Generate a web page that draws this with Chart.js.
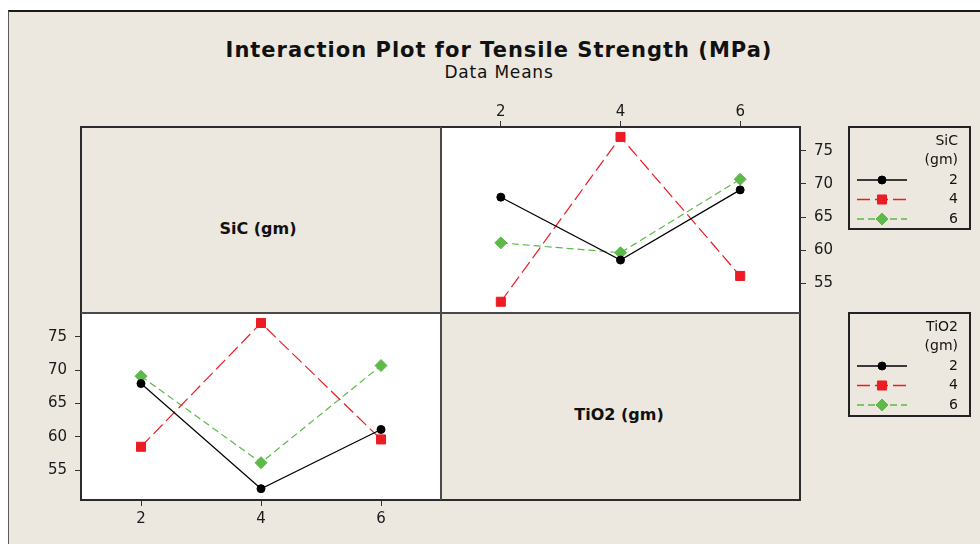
<!DOCTYPE html>
<html>
<head>
<meta charset="utf-8">
<title>Interaction Plot for Tensile Strength (MPa)</title>
<script src="https://cdn.jsdelivr.net/npm/chart.js@4.4.1/dist/chart.umd.min.js"></script>
<style>
  html, body { margin:0; padding:0; width:980px; height:544px; overflow:hidden; background:#fff; }
  body { position:relative; font-family:"DejaVu Sans", Verdana, sans-serif; color:#111; }
  .abs { position:absolute; box-sizing:border-box; }
  #sheet { left:8px; top:10px; width:972px; height:534px; background:#ECE8DF; border-top:2px solid #1a1a1a; border-left:1px solid #5a5a5a; }
  #frame { left:80px; top:126px; width:721px; height:375px; border:2px solid #2b2b2b; }
  .cell { background:#fff; }
  #cellTR { left:441px; top:127px; width:359px; height:186px; }
  #cellBL { left:81px; top:313px; width:360px; height:187px; }
  #vdiv { left:440px; top:127px; width:2px; height:373px; background:#4a4a4a; }
  #hdiv { left:81px; top:312px; width:719px; height:2px; background:#4a4a4a; }
  #title { left:0; top:40px; width:998px; text-align:center; font-weight:bold; font-size:21px; line-height:21px; letter-spacing:1px; white-space:nowrap; }
  #subtitle { left:0; top:64px; width:998px; text-align:center; font-size:17px; line-height:17px; letter-spacing:0.8px; white-space:nowrap; }
  .factor { width:200px; font-weight:bold; font-size:16px; line-height:16px; text-align:center; white-space:nowrap; }
  #facSiC { left:158px; top:221px; }
  #facTiO2 { left:519px; top:407px; }
  canvas { position:absolute; left:0; top:0; }
</style>
</head>
<body>
<div class="abs" id="sheet"></div>
<div class="abs cell" id="cellTR"></div>
<div class="abs cell" id="cellBL"></div>
<div class="abs" id="frame"></div>
<div class="abs" id="vdiv"></div>
<div class="abs" id="hdiv"></div>
<div class="abs" id="title">Interaction Plot for Tensile Strength (MPa)</div>
<div class="abs" id="subtitle">Data Means</div>
<div class="abs factor" id="facSiC">SiC (gm)</div>
<div class="abs factor" id="facTiO2">TiO2 (gm)</div>
<canvas id="sicPanel" width="980" height="544"></canvas>
<canvas id="tio2Panel" width="980" height="544"></canvas>
<script>
// Factor levels (gm) and axis ticks
const levels = [2, 4, 6];
const xTicks = [2, 4, 6];
const yTicks = [55, 60, 65, 70, 75];
const xMin = 1, xMax = 7;
const yMin = 50.5, yMax = 78.6;

// Mean tensile strength (MPa) at TiO2 = 2, 4, 6 gm, one array per SiC level
const sic2 = [68.0, 58.5, 69.1];
const sic4 = [52.2, 77.1, 56.1];
const sic6 = [61.1, 59.6, 70.7];
const sicRows = [sic2, sic4, sic6];

const W = 980, H = 544;
const styles = [
  { color: '#000000', dash: [],      point: 'circle',  radius: 4 },
  { color: '#EC1C24', dash: [13, 5], point: 'rect',    radius: 6.4 },
  { color: '#5CB94A', dash: [7, 4],  point: 'rectRot', radius: 6 }
];

function series(label, pts, st) {
  return {
    label: label, data: pts,
    borderColor: st.color, backgroundColor: st.color,
    borderWidth: 1.2, borderDash: st.dash, tension: 0, fill: false,
    pointStyle: st.point, pointRadius: st.radius, pointBorderWidth: 1,
    pointBackgroundColor: st.color, pointBorderColor: st.color
  };
}

// Top-right panel: x = TiO2 level, one line per SiC level
const sicSets = sicRows.map((row, i) =>
  series(String(levels[i]), levels.map((t, j) => ({ x: t, y: row[j] })), styles[i]));
// Bottom-left panel: x = SiC level, one line per TiO2 level
const tio2Sets = levels.map((t, j) =>
  series(String(t), levels.map((s, i) => ({ x: s, y: sicRows[i][j] })), styles[j]));

// Boxed key drawn to the right of the matrix, built from the chart's datasets
const panelLegend = {
  id: 'panelLegend',
  afterDraw(chart, args, o) {
    const ctx = chart.ctx;
    ctx.save();
    ctx.strokeStyle = '#222'; ctx.lineWidth = 2; ctx.setLineDash([]);
    ctx.strokeRect(o.left, o.top, o.width, o.height);
    ctx.fillStyle = '#111';
    ctx.font = '14px "DejaVu Sans"';
    ctx.textAlign = 'right'; ctx.textBaseline = 'middle';
    const tx = o.left + o.width - 12;
    o.heading.forEach((t, i) => ctx.fillText(t, tx, o.top + 14 + i * 19.5));
    chart.data.datasets.forEach((ds, i) => {
      const y = o.top + 53 + i * 19.5;
      const x0 = o.left + 8;
      ctx.strokeStyle = ds.borderColor; ctx.lineWidth = 1.3;
      ctx.setLineDash(ds.borderDash || []);
      ctx.beginPath(); ctx.moveTo(x0, y); ctx.lineTo(x0 + 50, y); ctx.stroke();
      ctx.setLineDash([]);
      ctx.fillStyle = ds.backgroundColor; ctx.lineWidth = 1;
      Chart.helpers.drawPoint(ctx, { pointStyle: ds.pointStyle, radius: ds.pointRadius, borderWidth: 1 }, x0 + 25, y);
      ctx.fillStyle = '#111';
      ctx.fillText(ds.label, tx, y);
    });
    ctx.restore();
  }
};

function makePanel(id, datasets, area, xPos, yPos, legendOpts) {
  const AXW = 50, AXH = 32;
  const padding = xPos === 'top'
    ? { left: area.left, right: W - area.right - AXW, top: area.top - AXH, bottom: H - area.bottom }
    : { left: area.left - AXW, right: W - area.right, top: area.top, bottom: H - area.bottom - AXH };
  const tickFont = { family: '"DejaVu Sans"', size: 15 };
  const grid = { drawOnChartArea: false, drawTicks: true, tickLength: 6, color: '#333', lineWidth: 1 };
  return new Chart(document.getElementById(id), {
    type: 'line',
    data: { datasets: datasets },
    options: {
      responsive: false, animation: false, devicePixelRatio: 1,
      layout: { padding: padding },
      plugins: { legend: { display: false }, tooltip: { enabled: false }, title: { display: false },
                 panelLegend: legendOpts },
      scales: {
        x: { type: 'linear', position: xPos, min: xMin, max: xMax,
             afterBuildTicks: s => { s.ticks = xTicks.map(v => ({ value: v })); },
             afterFit: s => { s.height = AXH; },
             grid: grid, border: { display: false },
             ticks: { font: tickFont, color: '#1a1a1a', padding: xPos === 'top' ? 0 : 4, maxRotation: 0, autoSkip: false } },
        y: { type: 'linear', position: yPos, min: yMin, max: yMax,
             afterBuildTicks: s => { s.ticks = yTicks.map(v => ({ value: v })); },
             afterFit: s => { s.width = AXW; },
             grid: grid, border: { display: false },
             ticks: { font: tickFont, color: '#1a1a1a', padding: 8, autoSkip: false } }
      }
    },
    plugins: [panelLegend]
  });
}

makePanel('sicPanel', sicSets, { left: 441, top: 127, right: 800, bottom: 313 }, 'top', 'right',
  { left: 849, top: 127, width: 121, height: 102, heading: ['SiC', '(gm)'] });
makePanel('tio2Panel', tio2Sets, { left: 81, top: 313, right: 441, bottom: 500 }, 'bottom', 'left',
  { left: 849, top: 313, width: 121, height: 103, heading: ['TiO2', '(gm)'] });
</script>
</body>
</html>
